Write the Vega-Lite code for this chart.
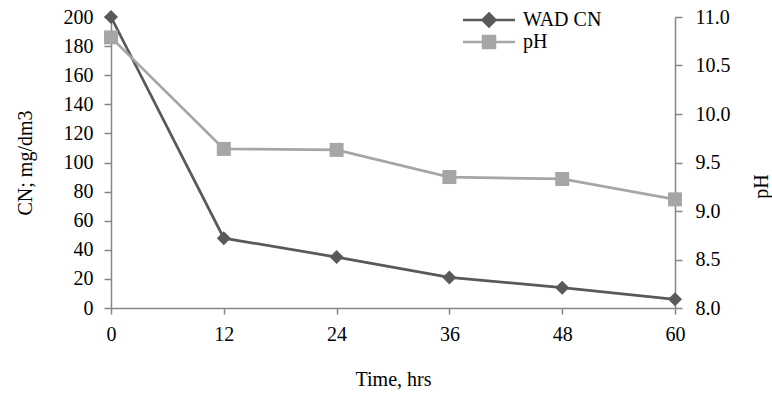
{
  "$schema": "https://vega.github.io/schema/vega-lite/v6.json",
  "width": 564,
  "height": 291,
  "autosize": {"type": "none"},
  "padding": {"left": 111, "top": 17, "right": 97, "bottom": 86},
  "background": "white",
  "config": {
    "font": "Liberation Serif",
    "view": {"stroke": null},
    "axis": {
      "grid": false,
      "domainColor": "#868686",
      "tickColor": "#868686",
      "domainWidth": 1.5,
      "tickWidth": 1.5,
      "labelFont": "Liberation Serif",
      "labelFontSize": 20,
      "labelColor": "black",
      "labelFlush": false,
      "titleFont": "Liberation Serif",
      "titleFontSize": 20,
      "titleFontWeight": "normal",
      "titleColor": "black"
    },
    "legend": {
      "labelFont": "Liberation Serif",
      "labelFontSize": 20,
      "labelColor": "black",
      "padding": 0
    }
  },
  "datasets": {
    "cn": [
      {"time": 0, "value": 200, "series": "WAD CN"},
      {"time": 12, "value": 48, "series": "WAD CN"},
      {"time": 24, "value": 35, "series": "WAD CN"},
      {"time": 36, "value": 21, "series": "WAD CN"},
      {"time": 48, "value": 14, "series": "WAD CN"},
      {"time": 60, "value": 6, "series": "WAD CN"}
    ],
    "ph": [
      {"time": 0, "value": 10.79, "series": "pH"},
      {"time": 12, "value": 9.64, "series": "pH"},
      {"time": 24, "value": 9.63, "series": "pH"},
      {"time": 36, "value": 9.35, "series": "pH"},
      {"time": 48, "value": 9.33, "series": "pH"},
      {"time": 60, "value": 9.12, "series": "pH"}
    ]
  },
  "encoding": {
    "x": {
      "field": "time",
      "type": "quantitative",
      "scale": {"domain": [0, 60], "nice": false},
      "axis": {
        "values": [0, 12, 24, 36, 48, 60],
        "title": "Time, hrs",
        "labelFont": "Liberation Serif",
        "labelFlush": false,
        "tickSize": 6,
        "labelPadding": 10,
        "titleX": 282,
        "titleY": 77,
        "titleBaseline": "alphabetic",
        "titleAlign": "center"
      }
    },
    "color": {
      "field": "series",
      "type": "nominal",
      "scale": {"domain": ["WAD CN", "pH"], "range": ["#595959", "#A6A6A6"]},
      "legend": {
        "title": null,
        "orient": "none",
        "legendX": 368,
        "legendY": -7,
        "symbolSize": 100,
        "labelOffset": 24,
        "rowPadding": -1,
        "encode": {
          "symbols": {
            "update": {
              "shape": {"signal": "datum.value === 'WAD CN' ? 'M-5.2,0H5.2M0,-1.3L1.3,0L0,1.3L-1.3,0Z' : 'M-5.2,0H5.2M-1.2,-1.2H1.2V1.2H-1.2Z'"},
              "fill": {"signal": "datum.value === 'WAD CN' ? '#595959' : '#A6A6A6'"},
              "stroke": {"signal": "datum.value === 'WAD CN' ? '#595959' : '#A6A6A6'"},
              "strokeWidth": {"value": 2.5},
              "opacity": {"value": 1},
              "fillOpacity": {"value": 1}
            }
          }
        }
      }
    }
  },
  "layer": [
    {
      "data": {"name": "cn"},
      "encoding": {
        "y": {
          "field": "value",
          "type": "quantitative",
          "scale": {"domain": [0, 200], "nice": false},
          "axis": {
            "orient": "left",
            "values": [0, 20, 40, 60, 80, 100, 120, 140, 160, 180, 200],
            "title": "CN; mg/dm3",
            "labelFont": "Liberation Serif",
            "tickSize": 7,
            "labelPadding": 11,
            "titleX": -86,
            "titleY": 145.5,
            "titleAngle": -90,
            "titleAlign": "center",
            "titleBaseline": "middle"
          }
        }
      },
      "layer": [
        {"mark": {"type": "line", "strokeWidth": 2.75}},
        {"mark": {"type": "point", "shape": "diamond", "filled": true, "size": 196, "opacity": 1}}
      ]
    },
    {
      "data": {"name": "ph"},
      "encoding": {
        "y": {
          "field": "value",
          "type": "quantitative",
          "scale": {"domain": [8, 11], "nice": false, "zero": false},
          "axis": {
            "orient": "right",
            "values": [8, 8.5, 9, 9.5, 10, 10.5, 11],
            "format": ".1f",
            "title": "pH",
            "labelFont": "Liberation Serif",
            "tickSize": 7,
            "labelPadding": 13,
            "titleX": 86,
            "titleY": 169,
            "titleAngle": -90,
            "titleAlign": "center",
            "titleBaseline": "middle",
            "encode": {"ticks": {"update": {"x": {"value": -7}}}}
          }
        }
      },
      "layer": [
        {"mark": {"type": "line", "strokeWidth": 2.75}},
        {"mark": {"type": "point", "shape": "square", "filled": true, "size": 196, "opacity": 1}}
      ]
    }
  ],
  "resolve": {"scale": {"y": "independent"}}
}
